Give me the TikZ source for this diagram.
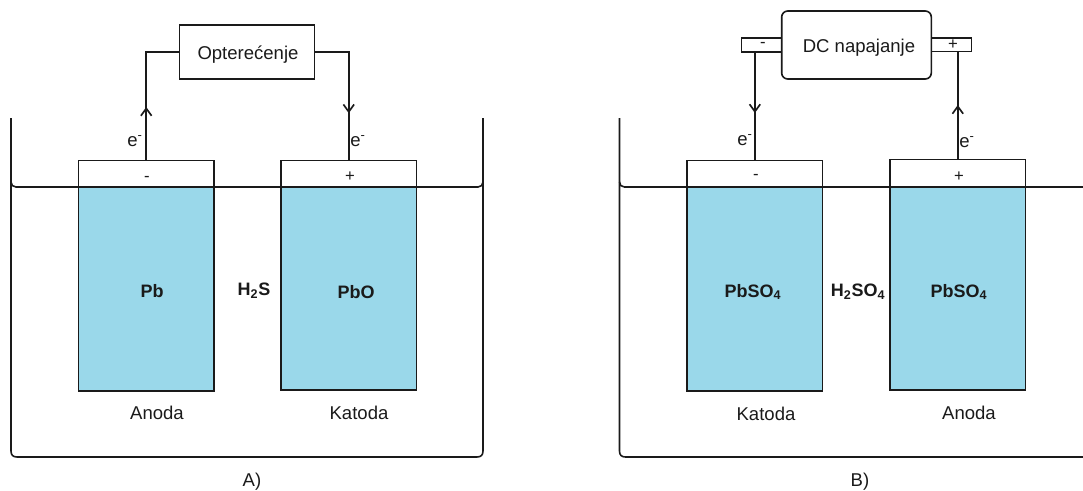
\documentclass[tikz,border=0pt]{standalone}
\usepackage{fontspec}
\setmainfont{Liberation Sans}
\usetikzlibrary{arrows.meta,decorations.markings}
\definecolor{ink}{HTML}{1A1A1A}
\definecolor{plate}{HTML}{9AD8EA}
\tikzset{
  lbl/.style={inner sep=0pt,outer sep=0pt,text=ink,font=\fontsize{13.9pt}{16pt}\selectfont},
  chem/.style={inner sep=0pt,outer sep=0pt,text=ink,font=\fontsize{13.5pt}{16pt}\selectfont\bfseries},
  sign/.style={inner sep=0pt,outer sep=0pt,text=ink,font=\fontsize{12.5pt}{14pt}\selectfont},
  platecap/.style={draw=ink,line width=1.2pt,fill=white,inner sep=0pt,outer sep=0pt,minimum width=101.5pt},
  platebody/.style={draw=ink,line width=1.2pt,fill=plate,inner sep=0pt,outer sep=0pt,minimum width=101.5pt},
  loadbox/.style={draw=ink,line width=1.2pt,fill=white,inner sep=0pt,outer sep=0pt},
  tankline/.style={draw=ink,line width=1.2pt},
  wire/.style={draw=ink,line width=1.25pt},
  tipat/.style={postaction={decorate},decoration={markings,mark=at position #1 with {\arrow[ink,line width=1.25pt]{Straight Barb[length=5.5pt,width=8pt]}}}}
}
\begin{document}
\begin{tikzpicture}[x=0.75pt,y=-0.75pt]
\useasboundingbox (0,0) rectangle (1083,490);
% --- A ---
\draw[tankline] (11,118) -- (11,451) .. controls (11,455) and (13,457) .. (17,457) -- (477,457) .. controls (481,457) and (483,455) .. (483,451) -- (483,118);
\node[platecap,minimum height=19.9pt] (capA) at (146.25,173.75) {};
\node[platecap,minimum height=19.9pt] (capK) at (348.75,173.75) {};
\node[platebody,minimum height=153pt] (bodyA) at (146.25,289) {};
\node[platebody,minimum height=152.25pt] (bodyK) at (348.75,288.5) {};
\draw[tankline] (11,182) .. controls (11,185) and (13,187) .. (16,187) -- (478,187) .. controls (481,187) and (483,185) .. (483,182);
\node[loadbox,minimum width=101.25pt,minimum height=40.5pt] (load) at (247,52) {};
\node[lbl] (loadtxt) at (248,55) {Opterećenje};
\draw[wire,tipat=40.1pt] (capA.north) |- (load.west);
\draw[wire,tipat=71.6pt] (load.east) -| (capK.north);
\node[lbl] (eA) at (135,141) {e\textsuperscript{-}};
\node[lbl] (eK) at (358,141) {e\textsuperscript{-}};
\node[sign] (mA) at (147,178.5) {-};
\node[sign] (pA) at (350,176.5) {+};
\node[chem] (pb) at (152,291) {Pb};
\node[chem] (h2s) at (254,291) {H\textsubscript{2}S};
\node[chem] (pbo) at (356,292) {PbO};
\node[lbl] (anA) at (157,413) {Anoda};
\node[lbl] (kaA) at (359,413) {Katoda};
\node[lbl] (capa) at (252,481.5) {A)};
% --- B ---
\draw[tankline] (619.5,118) -- (619.5,451) .. controls (619.5,455) and (621.5,457) .. (625.5,457) -- (1083,457);
\node[platecap,minimum height=19.9pt] (capC) at (754.9,173.75) {};
\node[platecap,minimum height=20.6pt] (capN) at (957.8,173.25) {};
\node[platebody,minimum height=153pt] (bodyC) at (754.9,289) {};
\node[platebody,minimum height=152.25pt] (bodyN) at (957.8,288.5) {};
\draw[tankline] (619.5,182) .. controls (619.5,185) and (621.5,187) .. (624.5,187) -- (1083,187);
\node[loadbox,minimum width=30.2pt,minimum height=10.5pt] (tm) at (761.6,45) {};
\node[loadbox,minimum width=30.4pt,minimum height=10.1pt] (tp) at (951.2,44.75) {};
\node[loadbox,rounded corners=4.5pt,minimum width=112.2pt,minimum height=51pt] (dc) at (856.5,45) {};
\node[lbl] (dctxt) at (859,48) {DC napajanje};
\node[sign] (mt) at (763,45) {-};
\node[sign] (pt) at (953,44.5) {+};
\draw[wire,tipat=45.75pt] (capC.north |- tm.south) -- (capC.north);
\draw[wire,tipat=40.9pt] (capN.north) -- (capN.north |- tp.south);
\node[lbl] (eC) at (745,140) {e\textsuperscript{-}};
\node[lbl] (eN) at (967,142) {e\textsuperscript{-}};
\node[sign] (mC) at (756,176.5) {-};
\node[sign] (pN) at (959,176.5) {+};
\node[chem] (ps1) at (753,292) {PbSO\textsubscript{4}};
\node[chem] (h2so4) at (858,292) {H\textsubscript{2}SO\textsubscript{4}};
\node[chem] (ps2) at (959,292) {PbSO\textsubscript{4}};
\node[lbl] (kaB) at (766,414) {Katoda};
\node[lbl] (anB) at (969,413) {Anoda};
\node[lbl] (capb) at (860,481.5) {B)};
\end{tikzpicture}
\end{document}
